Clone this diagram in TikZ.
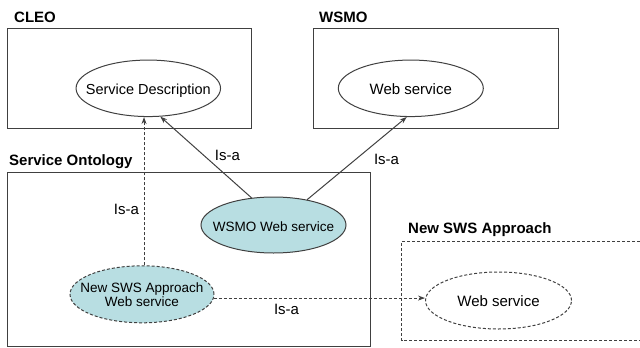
\documentclass[tikz,border=0pt]{standalone}
\usepackage{fontspec}
\setmainfont{Liberation Sans}
\usetikzlibrary{shapes.geometric,arrows.meta}
\definecolor{linegray}{HTML}{404040}
\definecolor{cyanfill}{HTML}{B8DEE2}
\newcommand{\ztext}[1]{\makebox[0pt]{\raisebox{-6pt}[0pt][0pt]{\begin{tabular}{@{}c@{}}#1\end{tabular}}}}
\begin{document}
\begin{tikzpicture}[x=1pt,y=-1pt,
  every node/.style={font=\fontsize{15}{18}\selectfont, text=black},
  frame/.style={draw=linegray, line width=1pt},
  dframe/.style={draw=linegray, line width=1pt, dash pattern=on 3pt off 2pt},
  concept/.style={ellipse, draw=linegray, line width=1pt, inner sep=0pt},
  title/.style={font=\fontsize{15}{18}\selectfont\bfseries, anchor=base west, inner sep=0pt},
  isa/.style={inner sep=0pt},
  arr/.style={draw=linegray, line width=1pt, -{Stealth[length=7pt,width=5pt]}},
  darr/.style={arr, dash pattern=on 3pt off 2pt}
]
\useasboundingbox (0,0) rectangle (640,348);
% frames
\node[title] (tcleo) at (14,22) {CLEO};
\draw[frame] (7.5,28.5) rectangle (251.5,128.5);
\node[title] (twsmo) at (319,22) {WSMO};
\draw[frame] (313.5,28.5) rectangle (558.5,128.5);
\node[title] (tso) at (9,165) {Service Ontology};
\draw[frame] (7.5,172.5) rectangle (370.5,346.5);
\node[title] (tnew) at (408,233.5) {New SWS Approach};
\draw[dframe] (645,241.5) -- (401.5,241.5) -- (401.5,340.5) -- (645,340.5);
% concepts
\node[concept, minimum width=144.5pt, minimum height=56.5pt, font=\fontsize{14.5}{18}\selectfont] (sd) at (148.3,88.3) {\ztext{Service Description}};
\node[concept, minimum width=145pt, minimum height=56.5pt] (ws) at (410.8,88.3) {\ztext{Web service}};
\node[concept, fill=cyanfill, minimum width=145pt, minimum height=56pt, font=\fontsize{13.5}{18}\selectfont] (wsmows) at (273.5,225) {\ztext{WSMO Web service}};
\node[concept, fill=cyanfill, dash pattern=on 3pt off 2pt, minimum width=144pt, minimum height=57pt, font=\fontsize{13.5}{14}\selectfont] (nsws) at (142,294.3) {\ztext{New SWS Approach\\Web service}};
\node[concept, dash pattern=on 3pt off 2pt, minimum width=146pt, minimum height=57pt] (ws2) at (498.5,300.5) {\ztext{Web service}};
% connectors
\draw[arr] (wsmows.129) -- (sd.-67);
\draw[arr] (wsmows.37) -- (ws.-98);
\draw[darr] (nsws.86) -- (nsws.86 |- sd.south);
\draw[darr] (nsws.-3) -- (nsws.-3 -| ws2.west);
% labels
\node[isa] (l1) at (227.5,155) {Is-a};
\node[isa] (l2) at (386.5,159) {Is-a};
\node[isa] (l3) at (126.5,209) {Is-a};
\node[isa] (l4) at (286.5,309) {Is-a};
\end{tikzpicture}
\end{document}
